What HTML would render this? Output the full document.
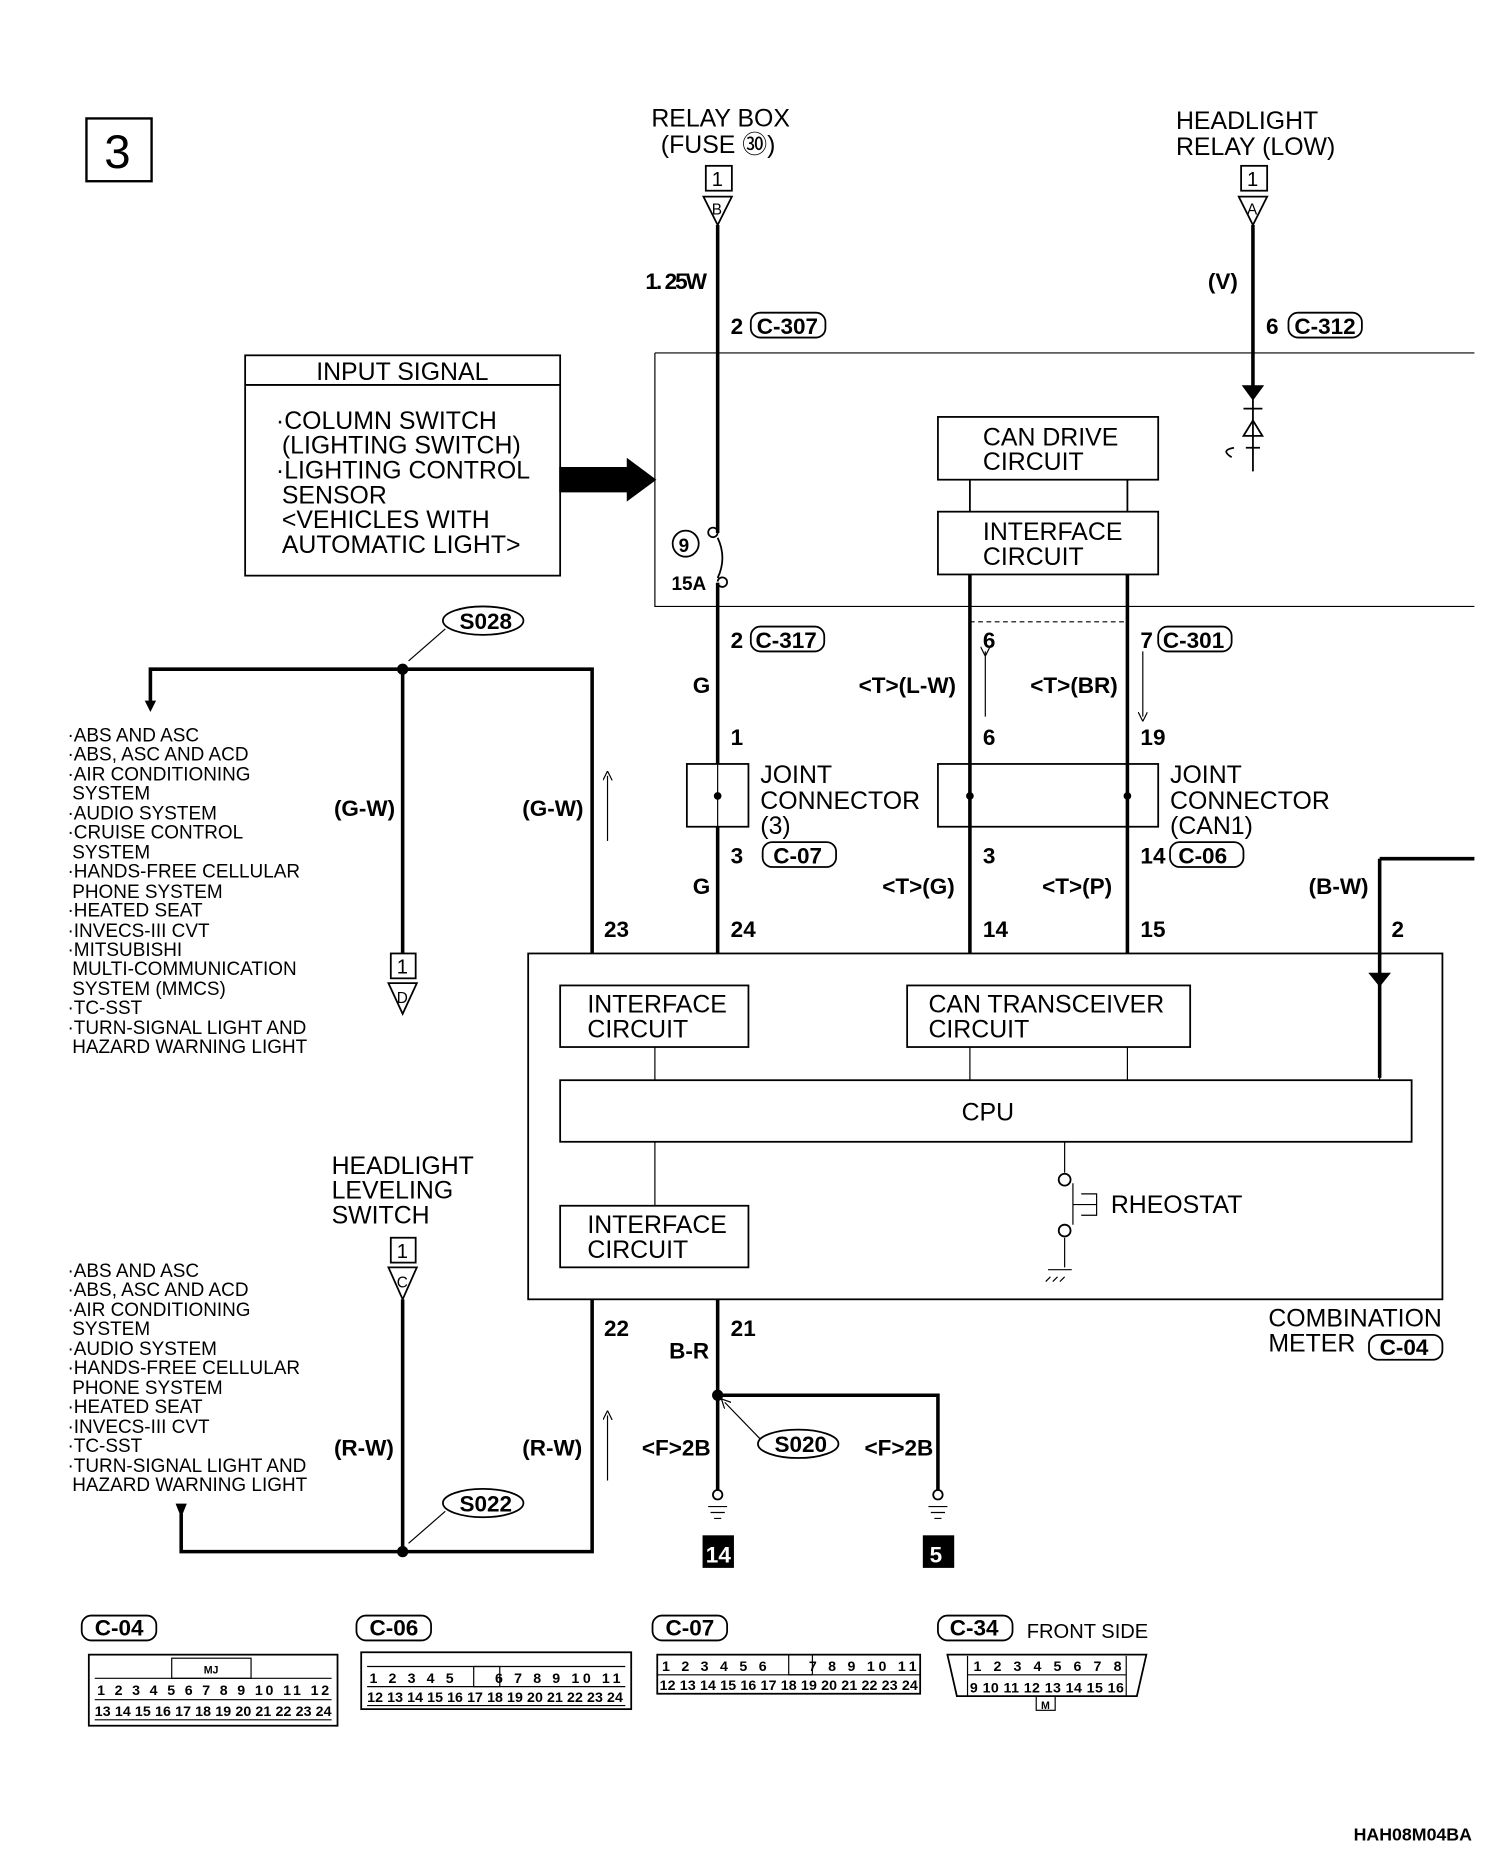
<!DOCTYPE html>
<html><head><meta charset="utf-8"><style>html,body{margin:0;padding:0;background:#fff}svg{display:block}text{font-family:"Liberation Sans",sans-serif;fill:#000}</style></head><body>
<svg width="1504" height="1856" viewBox="0 0 1270 1567" preserveAspectRatio="none" xmlns="http://www.w3.org/2000/svg">
<defs><marker id="ar" markerWidth="8" markerHeight="8" refX="4" refY="4" orient="auto"><path d="M0,0 L8,4 L0,8" fill="none" stroke="#000"/></marker></defs>
<g stroke="#000" fill="none" stroke-width="1.5">
<rect x="73" y="100" width="55" height="53" stroke-width="2"/>
<rect x="596" y="140" width="22" height="21"/><path d="M594,166 L618,166 L606,190 Z"/>
<rect x="1048" y="140" width="22" height="21"/><path d="M1046,166 L1070,166 L1058,190 Z"/>
<path d="M553,298 H1245 M553,298 V512 H1245" stroke-width="1"/>
<rect x="207" y="300" width="266" height="186"/><path d="M207,325 H473"/>
<rect x="792" y="352" width="186" height="53"/><rect x="792" y="432" width="186" height="53"/>
<path d="M819,405 V432 M952,405 V432"/>
<path d="M819,485 V805 M952,485 V805" stroke-width="3"/>
<path d="M819,525 H952" stroke-dasharray="4,3" stroke-width="1"/>
<path d="M606,190 V450 M606,492 V645 M606,698 V805" stroke-width="3"/>
<path d="M606,450 a4,4 0 1 1 0,-1 M606,492 a4,4 0 1 0 0,-1 M606,454 Q614,471 606,488" stroke-width="1.5"/>
<circle cx="579" cy="459" r="11"/>
<path d="M1058,190 V326" stroke-width="3"/><path d="M1058,326 V398" stroke-width="1.5"/>
<path d="M1050,326 L1066,326 L1058,337 Z" fill="#000"/>
<path d="M1050,345 H1066 M1050,368 L1066,368 L1058,355 Z M1052,378 H1064 M1042,378 Q1030,380 1040,386"/>
<path d="M832,550 V605 M965,550 V605" stroke-width="1" marker-end="url(#ar)" marker-start="url(#ar)"/>
<rect x="580" y="645" width="52" height="53"/><rect x="792" y="645" width="186" height="53"/>
<circle cx="606" cy="672" r="2.5" fill="#000"/><circle cx="819" cy="672" r="2.5" fill="#000"/><circle cx="952" cy="672" r="2.5" fill="#000"/>
<path d="M606,645 V698 M819,645 V698 M952,645 V698" stroke-width="1"/>
<path d="M513,710 V655" stroke-width="1" marker-end="url(#ar)"/>
<path d="M1165,725 H1245 M1165,725 V910" stroke-width="3"/>
<path d="M1157,822 H1173 L1165,832 Z" fill="#000"/>
<rect x="446" y="805" width="772" height="292"/>
<rect x="473" y="832" width="159" height="52"/><rect x="766" y="832" width="239" height="52"/>
<rect x="473" y="912" width="719" height="52"/><rect x="473" y="1018" width="159" height="52"/>
<path d="M553,884 V912 M819,884 V912 M952,884 V912 M1165,832 V912 M553,964 V1018 M899,964 V990 M899,1045 V1070 M885,1072 H905 M887,1078 l-4,4 M893,1078 l-4,4 M899,1078 l-4,4" stroke-width="1"/>
<circle cx="899" cy="996" r="5"/><circle cx="899" cy="1039" r="5"/><path d="M906,999 V1034 M906,1017 H926 M913,1008 H926 V1026 H913" stroke-width="1"/>
<path d="M127,595 V565 H500 V805 M340,565 V805 M500,1097 V1310 H153 V1278 M340,1097 V1310" stroke-width="3"/>
<path d="M123,592 L131,592 L127,600 Z M149,1270 L157,1270 L153,1280Z" fill="#000" stroke-width="1"/>
<rect x="330" y="805" width="21" height="21"/><path d="M328,830 L352,830 L340,856 Z"/>
<rect x="330" y="1045" width="21" height="21"/><path d="M328,1070 L352,1070 L340,1097 Z" />
<path d="M513,1250 V1195" stroke-width="1" marker-end="url(#ar)"/>
<path d="M606,1097 V1258 M606,1178 H792 V1258" stroke-width="3"/>
<circle cx="340" cy="565" r="4" fill="#000"/><circle cx="340" cy="1310" r="4" fill="#000"/><circle cx="606" cy="1178" r="4" fill="#000"/>
<ellipse cx="408" cy="524" rx="34" ry="12"/><ellipse cx="408" cy="1269" rx="34" ry="12"/><ellipse cx="674" cy="1219" rx="34" ry="12"/>
<path d="M376,531 L345,558 M376,1276 L345,1303 M642,1215 L612,1184" stroke-width="1" marker-end="url(#ar)"/>
<circle cx="606" cy="1262" r="4"/><circle cx="792" cy="1262" r="4"/>
<path d="M598,1272 H614 M600,1277 H612 M603,1282 H609 M784,1272 H800 M786,1277 H798 M789,1282 H795" stroke-width="1"/>
<rect x="594" y="1297" width="25" height="26" fill="#000"/><rect x="780" y="1297" width="25" height="26" fill="#000"/>
<path d="M473,395 H530 V388 L553,405 L530,422 V415 H473 Z" fill="#000"/>
<rect x="69" y="1364" width="63" height="21" rx="8"/><rect x="301" y="1364" width="63" height="21" rx="8"/><rect x="551" y="1364" width="63" height="21" rx="8"/><rect x="792" y="1364" width="63" height="21" rx="8"/>
<rect x="634" y="264" width="63" height="21" rx="8"/><rect x="1088" y="264" width="62" height="21" rx="8"/><rect x="634" y="529" width="62" height="21" rx="8"/><rect x="978" y="529" width="62" height="21" rx="8"/><rect x="644" y="711" width="62" height="21" rx="8"/><rect x="988" y="711" width="62" height="21" rx="8"/><rect x="1156" y="1127" width="62" height="21" rx="8"/>
<rect x="75" y="1397" width="210" height="60"/><rect x="305" y="1395" width="228" height="48"/><rect x="555" y="1397" width="222" height="33"/>
<path d="M800,1397 H968 L960,1432 H808 Z"/>
<path d="M80,1417 H280 M80,1435 H280 M80,1452 H280" stroke-width="1"/>
<path d="M310,1407 H528 M310,1424 H528 M310,1440 H528 M555,1414 H777 M817,1414 H951 M817,1398 V1432 M951,1398 V1432" stroke-width="1"/>
<rect x="145" y="1400" width="67" height="17" stroke-width="1"/><rect x="400" y="1407" width="22" height="17" stroke-width="1"/><rect x="666" y="1397" width="20" height="17" stroke-width="1"/><rect x="875" y="1432" width="16" height="12" stroke-width="1"/>
</g>
<g font-size="21">
<text x="88" y="142" font-size="40">3</text>
<text x="550" y="107">RELAY BOX</text><text x="558" y="129">(FUSE ㉚)</text>
<text x="993" y="109">HEADLIGHT</text><text x="993" y="131">RELAY (LOW)</text>
<text x="267" y="321">INPUT SIGNAL</text>
<text x="233" y="362">·COLUMN SWITCH</text><text x="238" y="383">(LIGHTING SWITCH)</text><text x="233" y="404">·LIGHTING CONTROL</text><text x="238" y="425">SENSOR</text><text x="238" y="446">&lt;VEHICLES WITH</text><text x="238" y="467">AUTOMATIC LIGHT&gt;</text>
<text x="830" y="376">CAN DRIVE</text><text x="830" y="397">CIRCUIT</text><text x="830" y="456">INTERFACE</text><text x="830" y="477">CIRCUIT</text>
<text x="642" y="661">JOINT</text><text x="642" y="683">CONNECTOR</text><text x="642" y="704">(3)</text>
<text x="988" y="661">JOINT</text><text x="988" y="683">CONNECTOR</text><text x="988" y="704">(CAN1)</text>
<text x="496" y="855">INTERFACE</text><text x="496" y="876">CIRCUIT</text><text x="784" y="855">CAN TRANSCEIVER</text><text x="784" y="876">CIRCUIT</text>
<text x="812" y="946">CPU</text><text x="938" y="1024">RHEOSTAT</text>
<text x="496" y="1041">INTERFACE</text><text x="496" y="1062">CIRCUIT</text>
<text x="1071" y="1120">COMBINATION</text><text x="1071" y="1141">METER</text>
<text x="280" y="991">HEADLIGHT</text><text x="280" y="1012">LEVELING</text><text x="280" y="1033">SWITCH</text>
</g>
<g font-size="19" font-weight="bold" font-family="Liberation Sans Narrow,Liberation Sans,sans-serif">
<text x="545" y="244" textLength="52">1. 25W</text><text x="1020" y="244">(V)</text>
<text x="617" y="282">2</text><text x="639" y="282">C-307</text><text x="1069" y="282">6</text><text x="1093" y="282">C-312</text>
<text x="573" y="466" font-size="16">9</text><text x="567" y="498" font-size="16">15A</text>
<text x="617" y="547">2</text><text x="638" y="547">C-317</text><text x="830" y="547">6</text><text x="963" y="547">7</text><text x="982" y="547">C-301</text>
<text x="585" y="585">G</text><text x="725" y="585">&lt;T&gt;(L-W)</text><text x="870" y="585">&lt;T&gt;(BR)</text>
<text x="617" y="629">1</text><text x="830" y="629">6</text><text x="963" y="629">19</text>
<text x="617" y="729">3</text><text x="653" y="729">C-07</text><text x="830" y="729">3</text><text x="963" y="729">14</text><text x="995" y="729">C-06</text>
<text x="585" y="755">G</text><text x="745" y="755">&lt;T&gt;(G)</text><text x="880" y="755">&lt;T&gt;(P)</text><text x="1105" y="755">(B-W)</text>
<text x="510" y="791">23</text><text x="617" y="791">24</text><text x="830" y="791">14</text><text x="963" y="791">15</text><text x="1175" y="791">2</text>
<text x="282" y="689">(G-W)</text><text x="441" y="689">(G-W)</text><text x="282" y="1229">(R-W)</text><text x="441" y="1229">(R-W)</text>
<text x="510" y="1128">22</text><text x="617" y="1128">21</text><text x="565" y="1147">B-R</text>
<text x="542" y="1229">&lt;F&gt;2B</text><text x="730" y="1229">&lt;F&gt;2B</text>
<text x="1165" y="1144">C-04</text>
<text x="388" y="531">S028</text><text x="388" y="1276">S022</text><text x="654" y="1226">S020</text>
<text x="596" y="1319" style="fill:#fff">14</text><text x="785" y="1319" style="fill:#fff">5</text>
<text x="80" y="1381">C-04</text><text x="312" y="1381">C-06</text><text x="562" y="1381">C-07</text><text x="802" y="1381">C-34</text>
<text x="1143" y="1554" font-size="15">HAH08M04BA</text>
</g>
<g font-size="17">
<text x="601" y="157">1</text><text x="1053" y="157">1</text><text x="335" y="822">1</text><text x="335" y="1062">1</text>
<text x="601" y="181" font-size="13">B</text><text x="1053" y="181" font-size="13">A</text><text x="335" y="847" font-size="13">D</text><text x="335" y="1087" font-size="13">C</text>
<text x="867" y="1383">FRONT SIDE</text>
</g>
<g font-size="16">
<text x="57" y="626">·ABS AND ASC</text><text x="57" y="642">·ABS, ASC AND ACD</text><text x="57" y="659">·AIR CONDITIONING</text><text x="61" y="675">SYSTEM</text><text x="57" y="692">·AUDIO SYSTEM</text><text x="57" y="708">·CRUISE CONTROL</text><text x="61" y="725">SYSTEM</text><text x="57" y="741">·HANDS-FREE CELLULAR</text><text x="61" y="758">PHONE SYSTEM</text><text x="57" y="774">·HEATED SEAT</text><text x="57" y="791">·INVECS-III CVT</text><text x="57" y="807">·MITSUBISHI</text><text x="61" y="823">MULTI-COMMUNICATION</text><text x="61" y="840">SYSTEM (MMCS)</text><text x="57" y="856">·TC-SST</text><text x="57" y="873">·TURN-SIGNAL LIGHT AND</text><text x="61" y="889">HAZARD WARNING LIGHT</text>
<text x="57" y="1078">·ABS AND ASC</text><text x="57" y="1094">·ABS, ASC AND ACD</text><text x="57" y="1111">·AIR CONDITIONING</text><text x="61" y="1127">SYSTEM</text><text x="57" y="1144">·AUDIO SYSTEM</text><text x="57" y="1160">·HANDS-FREE CELLULAR</text><text x="61" y="1177">PHONE SYSTEM</text><text x="57" y="1193">·HEATED SEAT</text><text x="57" y="1210">·INVECS-III CVT</text><text x="57" y="1226">·TC-SST</text><text x="57" y="1243">·TURN-SIGNAL LIGHT AND</text><text x="61" y="1259">HAZARD WARNING LIGHT</text>
</g>
<g font-size="12" font-weight="bold">
<text x="82" y="1431" textLength="196">1 2 3 4 5 6 7 8 9 10 11 12</text>
<text x="80" y="1449" textLength="200">13 14 15 16 17 18 19 20 21 22 23 24</text>
<text x="312" y="1421" textLength="212">1 2 3 4 5 &#160; &#160; 6 7 8 9 10 11</text>
<text x="310" y="1437" textLength="216">12 13 14 15 16 17 18 19 20 21 22 23 24</text>
<text x="559" y="1411" textLength="215">1 2 3 4 5 6 &#160; &#160; 7 8 9 10 11</text>
<text x="557" y="1427" textLength="218">12 13 14 15 16 17 18 19 20 21 22 23 24</text>
<text x="822" y="1411" textLength="125">1 2 3 4 5 6 7 8</text>
<text x="819" y="1429" textLength="130">9 10 11 12 13 14 15 16</text>
<text x="172" y="1413" font-size="9">MJ</text><text x="879" y="1443" font-size="9">M</text>
</g>
</svg>
</body></html>
